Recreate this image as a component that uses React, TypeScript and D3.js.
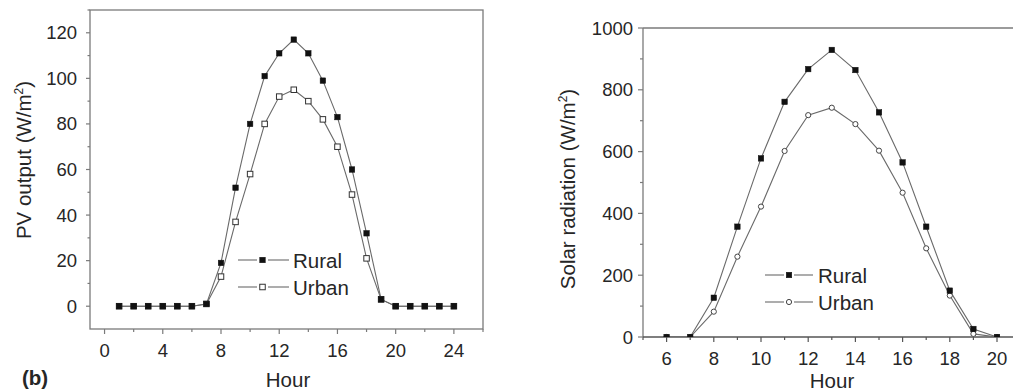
import React from "react";
import * as d3 from "d3";

// ---------- data ----------
const hoursPV = [1, 2, 3, 4, 5, 6, 7, 8, 9, 10, 11, 12, 13, 14, 15, 16, 17, 18, 19, 20, 21, 22, 23, 24];
const ruralPV = [0, 0, 0, 0, 0, 0, 1, 19, 52, 80, 101, 111, 117, 111, 99, 83, 60, 32, 3, 0, 0, 0, 0, 0];
const urbanPV = [0, 0, 0, 0, 0, 0, 1, 13, 37, 58, 80, 92, 95, 90, 82, 70, 49, 21, 3, 0, 0, 0, 0, 0];

const hoursSR = [6, 7, 8, 9, 10, 11, 12, 13, 14, 15, 16, 17, 18, 19, 20];
const ruralSR = [0, 0, 127, 357, 578, 761, 867, 929, 864, 727, 565, 357, 150, 26, 0];
const urbanSR = [0, 0, 82, 260, 422, 602, 718, 742, 689, 603, 467, 287, 134, 10, 0];

const xTicksL = [0, 4, 8, 12, 16, 20, 24];
const xMinorL = [2, 6, 10, 14, 18, 22, 26];
const yTicksL = [0, 20, 40, 60, 80, 100, 120];
const yMinorL = [10, 30, 50, 70, 90, 110, 130];

const xTicksR = [6, 8, 10, 12, 14, 16, 18, 20];
const xMinorR = [5, 7, 9, 11, 13, 15, 17, 19];
const yTicksR = [0, 200, 400, 600, 800, 1000];
const yMinorR = [100, 300, 500, 700, 900];

const seriesNames = ["Rural", "Urban"];

// ---------- styles ----------
const FONT = "'Liberation Sans', Arial, Helvetica, sans-serif";
const TXT = "#262626";
const AX = "#7a7a7a";
const LINE = "#6a6a6a";
const MK = "#111";

const W = 1013;
const H = 392;

function Square({ x, y, s, filled }: { x: number; y: number; s: number; filled: boolean }) {
  return (
    <rect
      x={x - s / 2}
      y={y - s / 2}
      width={s}
      height={s}
      fill={filled ? MK : "#fff"}
      stroke={filled ? MK : "#333"}
      strokeWidth={filled ? 0.5 : 1}
    />
  );
}

function Circle({ x, y, r }: { x: number; y: number; r: number }) {
  return <circle cx={x} cy={y} r={r} fill="#fff" stroke="#444" strokeWidth={1} />;
}

export default function App() {
  // ----- left chart scales -----
  const xL = d3.scaleLinear().domain([-1, 26]).range([90, 483]);
  const yL = d3.scaleLinear().domain([-10, 130]).range([329, 10]);
  const lineL = (vals: number[]) =>
    d3
      .line<number>()
      .x((_, i) => xL(hoursPV[i]))
      .y((v) => yL(v))(vals) || "";

  // ----- right chart scales -----
  const xR = d3.scaleLinear().domain([5, 20]).range([643, 997]);
  const yR = d3.scaleLinear().domain([0, 1000]).range([337, 28]);
  const lineR = (vals: number[]) =>
    d3
      .line<number>()
      .x((_, i) => xR(hoursSR[i]))
      .y((v) => yR(v))(vals) || "";

  const tickFont = 18.5;
  const titleFont = 20.5;

  return (
    <svg
      width={W}
      height={H}
      style={{ position: "absolute", left: 0, top: 0, display: "block", background: "#fff" }}
      fontFamily={FONT}
    >
      <defs>
        <clipPath id="clipR">
          <rect x={643} y={28} width={W - 643} height={337 - 28} />
        </clipPath>
      </defs>
      <rect x={0} y={0} width={W} height={H} fill="#fff" />

      {/* ================= LEFT CHART ================= */}
      <rect x={xL(-1)} y={yL(130)} width={xL(26) - xL(-1)} height={yL(-10) - yL(130)} fill="none" stroke={AX} strokeWidth={1.3} />
      {/* x ticks */}
      {xTicksL.map((t) => (
        <g key={"xl" + t}>
          <line x1={xL(t)} x2={xL(t)} y1={yL(-10)} y2={yL(-10) + 5} stroke={AX} strokeWidth={1.2} />
          <text x={xL(t)} y={357} textAnchor="middle" fontSize={tickFont} fill={TXT}>
            {t}
          </text>
        </g>
      ))}
      {xMinorL.map((t) => (
        <line key={"xlm" + t} x1={xL(t)} x2={xL(t)} y1={yL(-10)} y2={yL(-10) + 3} stroke={AX} strokeWidth={1.2} />
      ))}
      {/* y ticks */}
      {yTicksL.map((t) => (
        <g key={"yl" + t}>
          <line x1={xL(-1) - 4} x2={xL(-1)} y1={yL(t)} y2={yL(t)} stroke={AX} strokeWidth={1.2} />
          <text x={77} y={yL(t) + 6.5} textAnchor="end" fontSize={tickFont} fill={TXT}>
            {t}
          </text>
        </g>
      ))}
      {yMinorL.map((t) => (
        <line key={"ylm" + t} x1={xL(-1) - 2.5} x2={xL(-1)} y1={yL(t)} y2={yL(t)} stroke={AX} strokeWidth={1.2} />
      ))}

      {/* series */}
      <path d={lineL(urbanPV)} fill="none" stroke={LINE} strokeWidth={1.1} />
      <path d={lineL(ruralPV)} fill="none" stroke={LINE} strokeWidth={1.1} />
      {urbanPV.map((v, i) => (
        <Square key={"up" + i} x={xL(hoursPV[i])} y={yL(v)} s={5.5} filled={false} />
      ))}
      {ruralPV.map((v, i) => (
        <Square key={"rp" + i} x={xL(hoursPV[i])} y={yL(v)} s={5.5} filled={true} />
      ))}

      {/* legend */}
      {seriesNames.map((name, k) => {
        const ly = 260 + k * 27;
        return (
          <g key={"ll" + name}>
            <line x1={238} x2={257} y1={ly} y2={ly} stroke={LINE} strokeWidth={1.1} />
            <line x1={268} x2={289} y1={ly} y2={ly} stroke={LINE} strokeWidth={1.1} />
            <Square x={262.5} y={ly} s={5.5} filled={k === 0} />
            <text x={293} y={ly + 7.5} fontSize={titleFont} fill={TXT}>
              {name}
            </text>
          </g>
        );
      })}

      {/* titles */}
      <text x={288} y={387} textAnchor="middle" fontSize={titleFont} fill={TXT}>
        Hour
      </text>
      <text transform="translate(31,160) rotate(-90)" textAnchor="middle" fontSize={titleFont} fill={TXT}>
        PV output (W/m
        <tspan dy={-8} fontSize={12}>
          2
        </tspan>
        <tspan dy={8}>)</tspan>
      </text>
      <text x={22} y={385} fontSize={titleFont} fontWeight="bold" fill={TXT}>
        (b)
      </text>

      {/* ================= RIGHT CHART ================= */}
      <line x1={643} x2={W} y1={28} y2={28} stroke={AX} strokeWidth={1.3} />
      <line x1={643} x2={643} y1={28} y2={337} stroke={AX} strokeWidth={1.3} />
      <line x1={643} x2={W} y1={337} y2={337} stroke="#555" strokeWidth={1.4} />
      {xTicksR.map((t) => (
        <g key={"xr" + t}>
          <line x1={xR(t)} x2={xR(t)} y1={337} y2={342} stroke="#555" strokeWidth={1.2} />
          <text x={xR(t)} y={365} textAnchor="middle" fontSize={tickFont} fill={TXT}>
            {t}
          </text>
        </g>
      ))}
      {xMinorR.map((t) => (
        <line key={"xrm" + t} x1={xR(t)} x2={xR(t)} y1={337} y2={340} stroke="#555" strokeWidth={1.2} />
      ))}
      {yTicksR.map((t) => (
        <g key={"yr" + t}>
          <line x1={638} x2={643} y1={yR(t)} y2={yR(t)} stroke={AX} strokeWidth={1.2} />
          <text x={633} y={yR(t) + 6.5} textAnchor="end" fontSize={tickFont} fill={TXT}>
            {t}
          </text>
        </g>
      ))}
      {yMinorR.map((t) => (
        <line key={"yrm" + t} x1={640} x2={643} y1={yR(t)} y2={yR(t)} stroke={AX} strokeWidth={1.2} />
      ))}

      <g clipPath="url(#clipR)">
        <path d={lineR(urbanSR)} fill="none" stroke={LINE} strokeWidth={1.1} />
        <path d={lineR(ruralSR)} fill="none" stroke={LINE} strokeWidth={1.1} />
        {urbanSR.map((v, i) => (
          <Circle key={"us" + i} x={xR(hoursSR[i])} y={yR(v)} r={2.6} />
        ))}
        {ruralSR.map((v, i) => (
          <Square key={"rs" + i} x={xR(hoursSR[i])} y={yR(v)} s={5.5} filled={true} />
        ))}
      </g>

      {seriesNames.map((name, k) => {
        const ly = 275 + k * 27;
        return (
          <g key={"lr" + name}>
            <line x1={765} x2={784} y1={ly} y2={ly} stroke={LINE} strokeWidth={1.1} />
            <line x1={794} x2={813} y1={ly} y2={ly} stroke={LINE} strokeWidth={1.1} />
            {k === 0 ? <Square x={789} y={ly} s={5.5} filled={true} /> : <Circle x={789} y={ly} r={2.6} />}
            <text x={818} y={ly + 7.5} fontSize={titleFont} fill={TXT}>
              {name}
            </text>
          </g>
        );
      })}

      <text x={832} y={388} textAnchor="middle" fontSize={titleFont} fill={TXT}>
        Hour
      </text>
      <text transform="translate(575,189) rotate(-90)" textAnchor="middle" fontSize={titleFont} fill={TXT}>
        Solar radiation (W/m
        <tspan dy={-8} fontSize={12}>
          2
        </tspan>
        <tspan dy={8}>)</tspan>
      </text>
    </svg>
  );
}
